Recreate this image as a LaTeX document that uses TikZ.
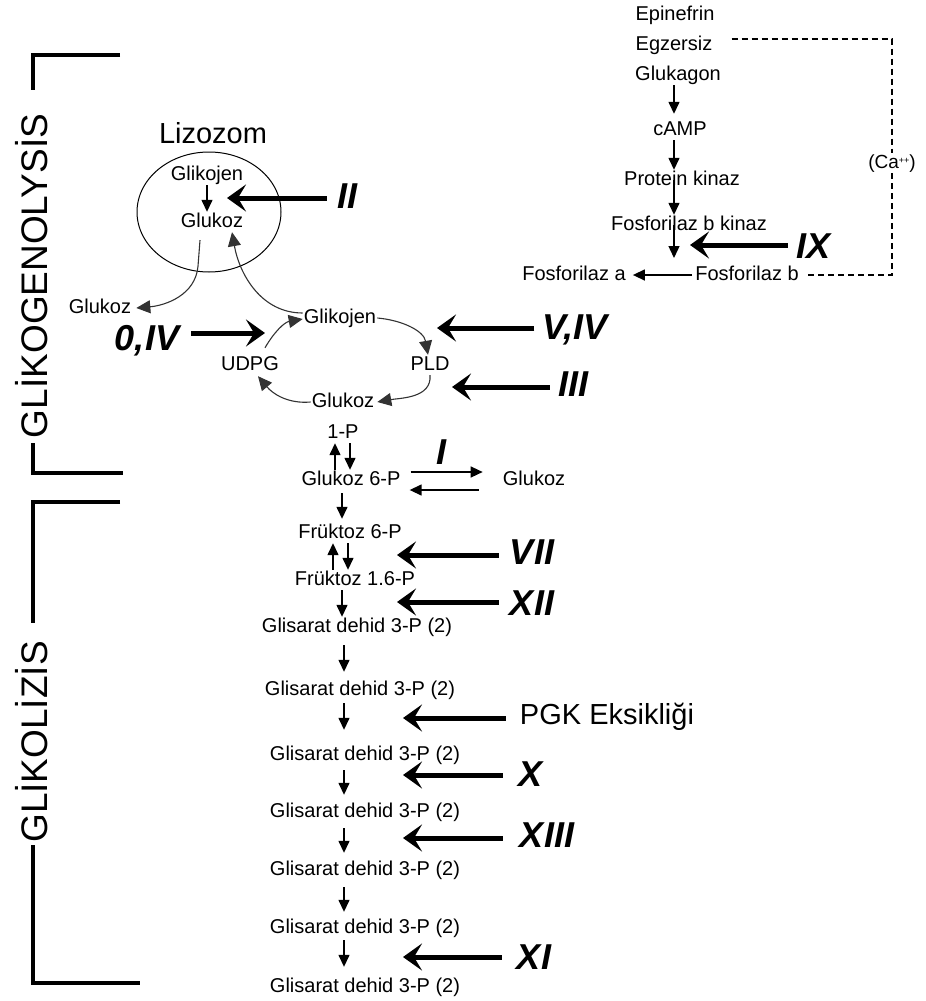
\documentclass[tikz,border=0pt]{standalone}
\usepackage{fontspec}
\setmainfont{Liberation Sans}
\usetikzlibrary{arrows.meta}
\begin{document}
\begin{tikzpicture}[x=1pt,y=-1pt,
  lbl/.style={font=\fontsize{20}{22}\selectfont, inner sep=1pt, text height=14pt, text depth=4pt},
  big/.style={font=\fontsize{36}{40}\selectfont\bfseries\itshape, inner sep=0pt, text height=25.8pt, text depth=0pt},
  side/.style={font=\fontsize{37}{40}\selectfont, rotate=90, inner sep=0pt, text height=26.5pt, text depth=0pt},
  bigarrow/.style={line width=5pt, -{Stealth[length=19pt,width=27pt,inset=8pt]}},
  smallarrow/.style={line width=1.4pt, -{Triangle[length=12pt,width=11pt]}},
  cyc/.style={line width=1.1pt, draw=black!80, -{Triangle[length=14pt,width=13pt]}},
  brk/.style={line width=3.5pt},
  dsh/.style={line width=1.1pt, dash pattern=on 6pt off 4pt}
]
\useasboundingbox (0,0) rectangle (926,1001);

% brackets
\draw[brk] (120,55) -- (33,55) -- (33,90);
\draw[brk] (33,443) -- (33,473) -- (123,473);
\node[side] (glg) at (34,276) {GLİKOGENOLYSİS};
\draw[brk] (120,502) -- (33,502) -- (33,623);
\draw[brk] (33,845) -- (33,983) -- (140,983);
\node[side] (glz) at (34,742) {GLİKOLİZİS};

% lysosome
\node[font=\fontsize{29}{32}\selectfont, inner sep=0pt] (liz) at (213,133) {Lizozom};
\draw[line width=1pt] (209,212) ellipse [x radius=72pt, y radius=60pt];
\node[lbl] (lgk) at (207,175) {Glikojen};
\node[lbl] (lgl) at (212,222) {Glukoz};
\node[lbl] (oglu) at (100,308) {Glukoz};

% glycogen cycle
\node[lbl] (gkj) at (340,318) {Glikojen};
\node[lbl] (udpg) at (250,365) {UDPG};
\node[lbl] (pld) at (430,365) {PLD};
\node[lbl] (cglu) at (343,402) {Glukoz};
\node[lbl] (p1) at (343,433) {1-P};
\node[lbl] (g6p) at (351,480) {Glukoz 6-P};
\node[lbl] (rglu) at (534,480) {Glukoz};
\node[lbl] (f6p) at (350,533) {Früktoz 6-P};
\node[lbl] (f16p) at (355,580) {Früktoz 1.6-P};
\node[lbl] (r1) at (357,627) {Glisarat dehid 3-P (2)};
\node[lbl] (r2) at (360,690) {Glisarat dehid 3-P (2)};
\node[lbl] (r3) at (365,755) {Glisarat dehid 3-P (2)};
\node[lbl] (r4) at (365,812) {Glisarat dehid 3-P (2)};
\node[lbl] (r5) at (365,870) {Glisarat dehid 3-P (2)};
\node[lbl] (r6) at (365,928) {Glisarat dehid 3-P (2)};
\node[lbl] (r7) at (365,987) {Glisarat dehid 3-P (2)};

% top right cascade
\node[lbl] (epi) at (675,15) {Epinefrin};
\node[lbl] (egz) at (674,45) {Egzersiz};
\node[lbl] (gluk) at (678,75) {Glukagon};
\node[lbl] (camp) at (680,130) {cAMP};
\node[lbl] (pk) at (682,180) {Protein kinaz};
\node[lbl] (fbk) at (689,225) {Fosforilaz b kinaz};
\node[lbl] (fb) at (747,275) {Fosforilaz b};
\node[lbl] (fa) at (574,275) {Fosforilaz a};
\node[lbl, font=\fontsize{19}{22}\selectfont] (ca) at (892,163) {(Ca\raisebox{5pt}{\fontsize{9}{10}\selectfont ++})};

\coordinate (ax) at (674,0);
\coordinate (fbend) at (674,258);
\draw[smallarrow, shorten >=6pt] (gluk.south -| ax) -- (camp.north -| ax);
\draw[smallarrow] (camp.south -| ax) -- (pk.north -| ax);
\draw[smallarrow] (pk.center -| ax) -- (fbk.north -| ax);
\draw[smallarrow] (fbk.center -| ax) -- (fbend);
\draw[smallarrow, shorten <=2pt, shorten >=6pt] (fb.west) -- (fa.east);
\draw[dsh] ([xshift=18pt,yshift=6pt]egz.east) -| (ca.north);
\draw[dsh] (ca.south) |- ([xshift=5pt]fb.east);

% lysosome arrows
\draw[smallarrow] (lgk.south) -- (lgk.south |- lgl.north);
\draw[cyc] ([xshift=-12pt,yshift=-8pt]lgl.south) -- ++(-2,26) to[out=-95,in=5] ([xshift=4pt]oglu.east);
\draw[cyc] ([yshift=5pt]gkj.west) to[out=180,in=-80] ([xshift=20pt]lgl.south);

% cycle arrows
\draw[cyc] (gkj.east) to[out=-5,in=100] ([xshift=-2pt]pld.north);
\draw[cyc] (pld.south) to[out=-85,in=10] ([xshift=2pt]cglu.east);
\draw[cyc] (cglu.west) to[out=185,in=-50] ([xshift=8pt,yshift=-1pt]udpg.south);
\draw[cyc] ([xshift=15pt,yshift=7pt]udpg.north) to[out=60,in=190] ([yshift=-1pt]gkj.west);

% main column arrows
\coordinate (xa) at (335,0);
\coordinate (xb) at (350,0);
\coordinate (xc) at (342,0);
\coordinate (xd) at (333,0);
\coordinate (xe) at (348,0);
\coordinate (xf) at (344,0);
\draw[smallarrow] (g6p.north -| xa) -- (p1.south -| xa);
\draw[smallarrow] (p1.south -| xb) -- (g6p.north -| xb);
\draw[smallarrow, shorten <=3pt, shorten >=4pt] (g6p.south -| xc) -- (f6p.north -| xc);
\draw[smallarrow] (f16p.north -| xd) -- (f6p.south -| xd);
\draw[smallarrow] (f6p.south -| xe) -- (f16p.north -| xe);
\draw[smallarrow] (f16p.south -| xc) -- (r1.north -| xc);
\draw[smallarrow, shorten <=8pt, shorten >=8pt] (r1.south -| xf) -- (r2.north -| xf);
\draw[smallarrow, shorten <=3pt, shorten >=15pt] (r2.south -| xf) -- (r3.north -| xf);
\draw[smallarrow, shorten <=5pt, shorten >=7pt] (r3.south -| xf) -- (r4.north -| xf);
\draw[smallarrow, shorten <=6pt, shorten >=7pt] (r4.south -| xf) -- (r5.north -| xf);
\draw[smallarrow, shorten <=7pt, shorten >=6pt] (r5.south -| xf) -- (r6.north -| xf);
\draw[smallarrow, shorten <=2pt, shorten >=10pt] (r6.south -| xf) -- (r7.north -| xf);

% equilibrium G6P <-> Glukoz
\draw[smallarrow, shorten <=9pt, shorten >=19pt] ([yshift=8pt]g6p.east) -- ([yshift=8pt]g6p.east -| rglu.west);
\draw[smallarrow, shorten <=23pt, shorten >=8pt] ([yshift=-10pt]g6p.east -| rglu.west) -- ([yshift=-10pt]g6p.east);
\node[big] (nI) at (441,452) {I};

% big arrows with labels
\node[big] (nII) at (347,196) {II};
\coordinate (tII) at (227,198);
\draw[bigarrow, shorten <=10pt] (nII.west |- tII) -- (tII);

\node[big] (n0IV) at (147,338) {0,IV};
\coordinate (t0IV) at (265,333);
\draw[bigarrow, shorten <=12pt] (n0IV.east |- t0IV) -- (t0IV);

\node[big] (nVIV) at (575,327) {V,IV};
\coordinate (tVIV) at (437,328);
\draw[bigarrow, shorten <=8pt] (nVIV.west |- tVIV) -- (tVIV);

\node[big] (nIII) at (573,384) {III};
\coordinate (tIII) at (452,387);
\draw[bigarrow, shorten <=8pt] (nIII.west |- tIII) -- (tIII);

\node[big] (nIX) at (813,246) {IX};
\coordinate (tIX) at (690,245);
\draw[bigarrow, shorten <=8pt] (nIX.west |- tIX) -- (tIX);

\node[big] (nVII) at (532,552) {VII};
\coordinate (tVII) at (397,555);
\draw[bigarrow, shorten <=11pt] (nVII.west |- tVII) -- (tVII);

\node[big] (nXII) at (532,603) {XII};
\coordinate (tXII) at (397,602);
\draw[bigarrow, shorten <=11pt] (nXII.west |- tXII) -- (tXII);

\node[font=\fontsize{29}{32}\selectfont, inner sep=0pt] (npgk) at (607,717) {PGK Eksikliği};
\coordinate (tpgk) at (403,718);
\draw[bigarrow, shorten <=14pt] (npgk.west |- tpgk) -- (tpgk);

\node[big] (nX) at (530,774) {X};
\coordinate (tX) at (403,775);
\draw[bigarrow, shorten <=15pt] (nX.west |- tX) -- (tX);

\node[big] (nXIII) at (547,835) {XIII};
\coordinate (tXIII) at (403,838);
\draw[bigarrow, shorten <=17pt] (nXIII.west |- tXIII) -- (tXIII);

\node[big] (nXI) at (534,957) {XI};
\coordinate (tXI) at (403,957);
\draw[bigarrow, shorten <=15pt] (nXI.west |- tXI) -- (tXI);
\end{tikzpicture}
\end{document}
